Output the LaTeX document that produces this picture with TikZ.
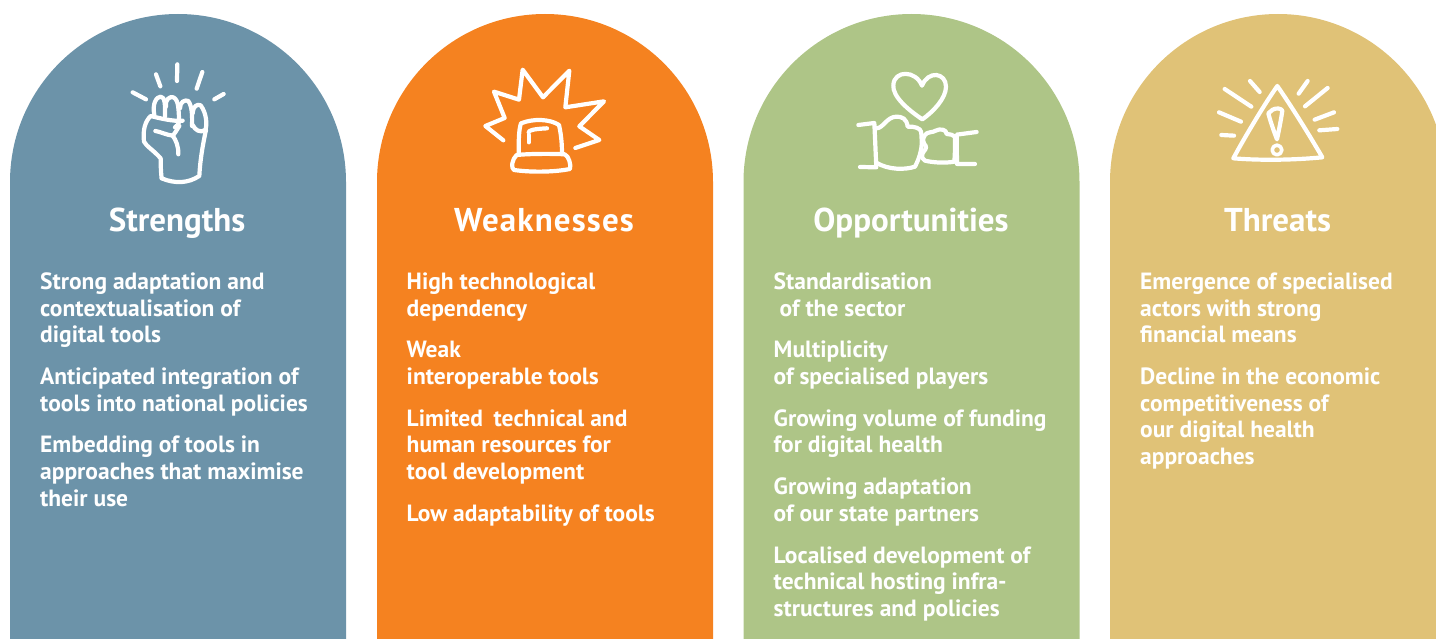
\documentclass[tikz,border=0pt]{standalone}
\usepackage{fontspec}
\setmainfont{PT Sans}
\newcommand{\pgap}{\\[15.2pt]}
\definecolor{cblue}{HTML}{6C93A9}
\definecolor{corange}{HTML}{F58220}
\definecolor{cgreen}{HTML}{AEC587}
\definecolor{cyellow}{HTML}{E0C277}
\tikzset{
  headtext/.style={text=white,inner sep=0pt,anchor=base,font=\fontsize{33}{36}\selectfont\bfseries},
  bodytext/.style={text=white,inner sep=0pt,anchor=north west,align=left,font=\fontsize{23.5}{26.6}\selectfont\bfseries},
  icon/.style={draw=white,line width=4.2pt,line cap=round,line join=round,fill=none},
  iconthin/.style={icon,line width=3.6pt},
}
\newcommand{\archpanel}[2]{\fill[#2] (#1,639) -- (#1,182) arc[start angle=180,end angle=360,x radius=168,y radius=168] -- (#1+336,639) -- cycle;}
\begin{document}
\begin{tikzpicture}[x=1pt,y=-1pt]
\useasboundingbox (0,0) rectangle (1436,639);
\clip (0,0) rectangle (1436,639);
\archpanel{10}{cblue}
\archpanel{377}{corange}
\archpanel{743.5}{cgreen}
\archpanel{1110}{cyellow}

\node[headtext] (h1) at (177,231.5) {Strengths};
\node[headtext] (h2) at (544,231.5) {\addfontfeature{LetterSpace=3.5}Weaknesses};
\node[headtext] (h3) at (911,231.5) {Opportunities};
\node[headtext] (h4) at (1277.5,231.5) {Threats};

\node[bodytext] (b1) at (40,270.6) {\strut Strong adaptation and\\contextualisation of\\digital tools\pgap Anticipated integration of\\tools into national policies\pgap Embedding of tools in\\approaches that maximise\\their use};
\node[bodytext] (b2) at (406.5,270.6) {\strut High technological\\dependency\pgap Weak\\interoperable tools\pgap Limited\hspace{0.45em}technical and\\human resources for\\tool development\pgap Low adaptability of tools};
\node[bodytext] (b3) at (773.5,270.6) {\strut Standardisation\\\hspace{6pt}of the sector\pgap Multiplicity\\of specialised players\pgap Growing volume of funding\\for digital health\pgap Growing adaptation\\of our state partners\pgap Localised development of\\technical hosting infra-\\structures and policies};
\node[bodytext] (b4) at (1140,270.6) {\strut Emergence of specialised\\actors with strong\\financial means\pgap Decline in the economic\\competitiveness of\\our digital health\\approaches};

% fist
\begin{scope}[shift={(110,50)},x=0.3333pt,y=-0.3333pt]
\draw[icon] (202,43) -- (201,93);
\draw[icon] (138,73) -- (151,109);
\draw[icon] (277,66) -- (260,116);
\draw[icon] (68,127) -- (108,148);
\draw[icon] (341,132) -- (313,148);
\draw[icon] (155,385) .. controls (195,402) and (235,400) .. (268,378) .. controls (270,340) and (275,300) .. (288,240);
\draw[icon] (155,385) .. controls (152,360) and (152,340) .. (152,325) .. controls (130,300) and (110,290) .. (102,275) .. controls (98,240) and (105,215) .. (122,198) .. controls (150,205) and (190,215) .. (218,212);
\draw[icon] (133,195) .. controls (126,160) and (140,140) .. (152,140) .. controls (165,140) and (166,165) .. (165,200);
\draw[icon] (168,170) .. controls (165,150) and (178,138) .. (190,142) .. controls (208,150) and (205,185) .. (208,215) .. controls (205,222) and (200,230) .. (195,232);
\draw[icon] (210,175) .. controls (210,155) and (225,148) .. (235,153) .. controls (247,170) and (247,200) .. (246,228);
\draw[icon] (248,190) .. controls (248,170) and (262,160) .. (272,166) .. controls (290,190) and (292,225) .. (286,240) .. controls (270,250) and (255,240) .. (248,225);
\draw[icon] (136,243) .. controls (150,245) and (170,255) .. (188,257) .. controls (195,250) and (200,240) .. (208,228);
\draw[icon] (188,257) .. controls (198,270) and (206,290) .. (205,313);
\end{scope}

% siren
\begin{scope}[shift={(470,55)},x=0.3333pt,y=-0.3333pt]
\draw[icon] (100,256) -- (46,213) -- (104,189) -- (72,110) -- (147,134) -- (158,44) -- (219,127) -- (298,47) -- (286,157) -- (402,139) -- (328,214) -- (388,255) -- (316,279);
\draw[icon] (146,296) .. controls (146,260) and (146,225) .. (153,205) .. controls (190,190) and (240,192) .. (267,210) .. controls (274,240) and (276,270) .. (276,296);
\draw[icon] (176,262) -- (176,240);
\draw[icon] (176,232) .. controls (176,226) and (190,222) .. (231,220);
\draw[icon] (140,300) .. controls (180,296) and (250,296) .. (284,298) .. controls (296,302) and (304,330) .. (300,342) .. controls (250,352) and (180,352) .. (132,345) .. controls (122,340) and (126,312) .. (140,300) -- cycle;
\end{scope}

% hands and heart
\begin{scope}[shift={(845,60)},x=0.3333pt,y=-0.3333pt]
\draw[icon] (232,178) .. controls (190,150) and (142,110) .. (145,75) .. controls (148,30) and (212,30) .. (231,77) .. controls (250,30) and (303,38) .. (303,80) .. controls (303,115) and (265,155) .. (232,178) -- cycle;
\draw[icon] (40,195) -- (88,189) .. controls (90,230) and (92,280) .. (94,322) -- (45,321);
\draw[icon] (94,205) .. controls (115,205) and (125,170) .. (155,170) .. controls (170,170) and (185,175) .. (188,200) .. controls (205,198) and (228,205) .. (228,215) .. controls (230,225) and (230,240) .. (230,255) .. controls (228,280) and (218,305) .. (210,320) .. controls (180,330) and (130,330) .. (94,308);
\draw[icon] (240,225) .. controls (245,215) and (265,218) .. (272,212) .. controls (285,205) and (305,208) .. (305,222) .. controls (315,222) and (325,225) .. (330,230) .. controls (330,260) and (330,285) .. (328,305) .. controls (300,310) and (265,308) .. (240,302) .. controls (230,295) and (228,285) .. (236,275) .. controls (245,265) and (245,260) .. (238,252) .. controls (232,240) and (234,235) .. (240,225);
\draw[icon] (395,216) -- (335,224) -- (336,312) -- (390,312);
\end{scope}

% warning
\begin{scope}[shift={(1205,70)},x=0.3333pt,y=-0.3333pt]
\draw[icon] (217,48) .. controls (180,100) and (120,200) .. (85,265) .. controls (170,272) and (270,270) .. (352,262) .. controls (310,190) and (260,110) .. (217,48) -- cycle;
\draw[icon] (203,119) .. controls (215,113) and (228,115) .. (232,122) .. controls (228,150) and (222,180) .. (216,208) .. controls (205,180) and (195,150) .. (190,130) -- (203,119);
\draw[iconthin] (216,240) circle[radius=14.5];
\draw[icon] (135,33) -- (164,66);
\draw[icon] (59,57) -- (139,110);
\draw[icon] (42,127) -- (108,155);
\draw[icon] (49,195) -- (87,197);
\draw[icon] (308,33) -- (281,71);
\draw[icon] (368,54) -- (300,109);
\draw[icon] (387,127) -- (329,149);
\draw[icon] (397,177) -- (343,181);
\end{scope}
\end{tikzpicture}
\end{document}
